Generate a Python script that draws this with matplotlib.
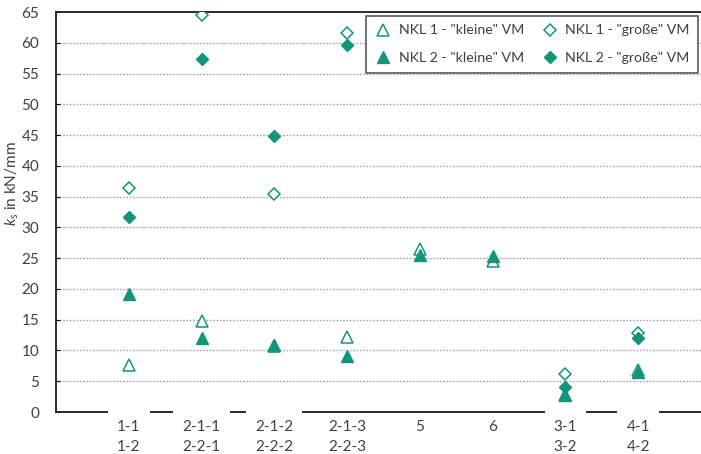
import matplotlib
matplotlib.use("Agg")
import matplotlib.pyplot as plt
import matplotlib.transforms as mtransforms

# categories (two-line tick labels)
categories = ["1-1\n1-2", "2-1-1\n2-2-1", "2-1-2\n2-2-2", "2-1-3\n2-2-3",
              "5", "6", "3-1\n3-2", "4-1\n4-2"]
label_gap = [True, True, True, False, False, False, True, True]

# k_s in kN/mm
nkl1_kleine = [7.6, 14.8, 10.7, 12.2, 26.5, 24.6, 2.8, 6.9]
nkl1_gross = [36.4, 64.5, 35.4, 61.6, None, None, 6.2, 12.8]
nkl2_kleine = [19.1, 12.1, 10.9, 9.1, 25.5, 25.3, 2.8, 6.5]
nkl2_gross = [31.7, 57.4, 44.9, 59.6, None, None, 4.1, 12.0]

color = "#12957c"
text_color = "#404040"

plt.rcParams["font.family"] = ["Lato", "DejaVu Sans"]
plt.rcParams["mathtext.fontset"] = "custom"
plt.rcParams["mathtext.rm"] = "Lato"
plt.rcParams["mathtext.it"] = "Lato:italic"

fig = plt.figure(figsize=(7.01, 4.54), dpi=100)
ax = fig.add_axes([56 / 701, 42 / 454, 655 / 701, 400 / 454])

x = list(range(1, len(categories) + 1))


def pts(vals):
    xs = [xi for xi, v in zip(x, vals) if v is not None]
    ys = [v for v in vals if v is not None]
    return xs, ys


h1, = ax.plot(*pts(nkl1_kleine), linestyle="none", marker="^", markersize=9,
              markerfacecolor="white", markeredgecolor=color, markeredgewidth=1.1,
              label='NKL 1 - "kleine" VM', zorder=3)
h2, = ax.plot(*pts(nkl1_gross), linestyle="none", marker="D", markersize=6.5,
              markerfacecolor="white", markeredgecolor=color, markeredgewidth=1.1,
              label='NKL 1 - "große" VM', zorder=3)
h3, = ax.plot(*pts(nkl2_kleine), linestyle="none", marker="^", markersize=9,
              color=color, label='NKL 2 - "kleine" VM', zorder=3)
h4, = ax.plot(*pts(nkl2_gross), linestyle="none", marker="D", markersize=6.5,
              color=color, label='NKL 2 - "große" VM', zorder=3)

ax.set_xlim(0, 9)
ax.set_ylim(0, 65)
ax.set_yticks(range(0, 70, 5))
ax.set_xticks([])
ax.tick_params(axis="y", direction="in", length=3, width=0.8, pad=12,
               labelsize=11, labelcolor=text_color)

for y in range(5, 65, 5):
    ax.axhline(y, color="#a6a6a6", linestyle=(0, (1.2, 1.2)), linewidth=1.0, zorder=1)

for side in ["left", "top", "bottom"]:
    ax.spines[side].set_color("#1a1a1a")
    ax.spines[side].set_linewidth(1.3)
ax.spines["right"].set_visible(False)

# category labels (white boxes interrupt the baseline like in the original)
trans = mtransforms.blended_transform_factory(ax.transData, ax.transAxes)
for xi, lab, gap in zip(x, categories, label_gap):
    t = ax.text(xi, -0.019, lab, transform=trans, ha="center", va="top",
                fontsize=11, color=text_color, linespacing=1.55,
                clip_on=False, zorder=5)
    if gap:
        t.set_bbox(dict(facecolor="white", edgecolor="none", pad=6.5))

ax.set_ylabel(r"$\mathit{k}_\mathrm{s}$ in kN/mm", fontsize=11, color=text_color)
ax.yaxis.set_label_coords(-0.054, 0.57)

leg = ax.legend(handles=[h1, h3, h2, h4], ncol=2, loc="upper right",
                bbox_to_anchor=(698 / 701, 1 - 16 / 454),
                bbox_transform=fig.transFigure, fancybox=False, framealpha=1,
                edgecolor="#595959", fontsize=10.2, labelspacing=1.1,
                handletextpad=0.5, columnspacing=1.2, handlelength=1.2,
                borderpad=0.6, borderaxespad=0)
leg.get_frame().set_linewidth(1.2)
for t in leg.get_texts():
    t.set_color(text_color)

fig.savefig("out.png", dpi=100)
